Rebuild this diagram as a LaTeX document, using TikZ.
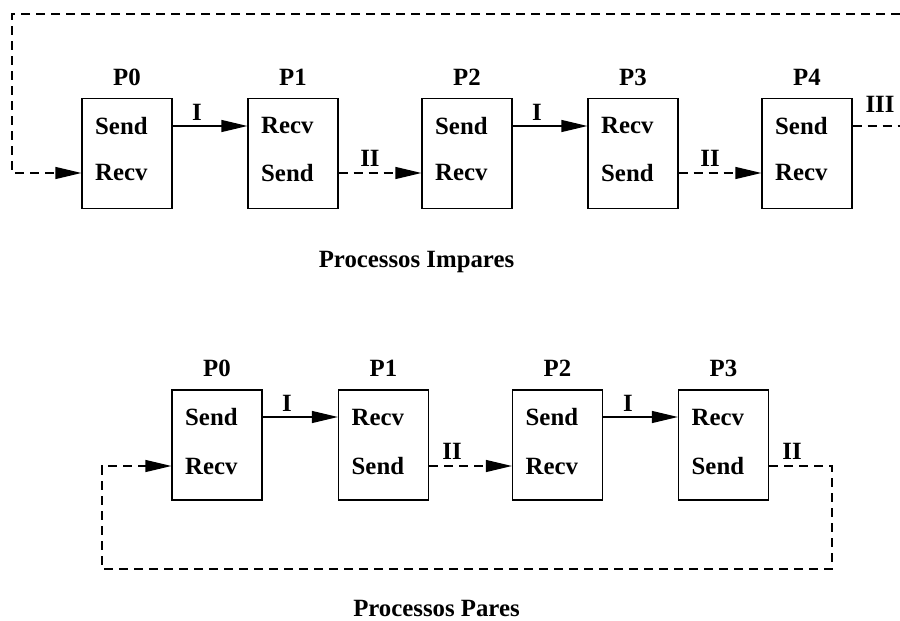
\documentclass[tikz,border=0pt]{standalone}
\usepackage{fontspec}
\setmainfont{Liberation Serif}
\usetikzlibrary{arrows.meta}
\begin{document}
\begin{tikzpicture}[x=1pt,y=-1pt,
  every node/.style={font=\fontsize{24.8}{30}\selectfont\bfseries, inner sep=0pt},
  pbox/.style={draw, line width=1.2pt, minimum width=90pt, minimum height=110pt},
  txt/.style={anchor=west},
  lbl/.style={anchor=center},
  conn/.style={line width=1.2pt, -{Triangle[length=26pt,width=12pt]}},
  dconn/.style={conn, dash pattern=on 9pt off 6pt},
  dline/.style={line width=1.2pt, dash pattern=on 9pt off 6pt}]
\useasboundingbox (0,0) rectangle (900,621);

% ---------- top row (Processos Impares) ----------
\foreach \i/\cx/\a/\b in {0/127/Send/Recv,1/293/Recv/Send,2/467/Send/Recv,3/633/Recv/Send,4/807/Send/Recv}{
  \node[pbox] (a\i) at (\cx,153.5) {};
  \node[lbl] (ap\i) at (\cx,77) {P\i};
  \node[txt] (as\i) at (\cx-32,126) {\a};
  \node[txt] (ar\i) at (\cx-32,173) {\b};
}
\draw[conn] (a0.east |- as0) -- (a1.west |- as0);
\draw[dconn] (a1.east |- ar1) -- (a2.west |- ar1);
\draw[conn] (a2.east |- as2) -- (a3.west |- as2);
\draw[dconn] (a3.east |- ar3) -- (a4.west |- ar4);
\node[lbl] (al1) at (197,112) {I};
\node[lbl] (al2) at (370,158) {II};
\node[lbl] (al3) at (537,112) {I};
\node[lbl] (al4) at (710,158) {II};
\node[lbl] (al5) at (880,104) {III};
\coordinate (topR) at (900,14);
\coordinate (midR) at (900,126);
\coordinate (topL) at (12,14);
\draw[dline] (a4.east |- as4) -- (midR);
\draw[dconn] (topR) -- (topL) |- (a0.west |- ar0);
\node[lbl] (capA) at (416.5,262) {Processos Impares};

% ---------- bottom row (Processos Pares) ----------
\foreach \i/\cx/\a/\b in {0/217/Send/Recv,1/383.5/Recv/Send,2/557.5/Send/Recv,3/723.5/Recv/Send}{
  \node[pbox] (b\i) at (\cx,445) {};
  \node[lbl] (bp\i) at (\cx,368) {P\i};
  \node[txt] (bs\i) at (\cx-32,417) {\a};
  \node[txt] (br\i) at (\cx-32,466) {\b};
}
\draw[conn] (b0.east |- bs0) -- (b1.west |- bs0);
\draw[dconn] (b1.east |- br1) -- (b2.west |- br1);
\draw[conn] (b2.east |- bs2) -- (b3.west |- bs2);
\node[lbl] (bl1) at (287,403) {I};
\node[lbl] (bl2) at (452,451) {II};
\node[lbl] (bl3) at (628,403) {I};
\node[lbl] (bl4) at (792,451) {II};
\coordinate (c1) at (832,569);
\coordinate (c2) at (102,569);
\draw[dconn] (b3.east |- br3) -| (c1) -- (c2) |- (b0.west |- br0);
\node[lbl] (capB) at (436.5,608) {Processos Pares};
\end{tikzpicture}
\end{document}
